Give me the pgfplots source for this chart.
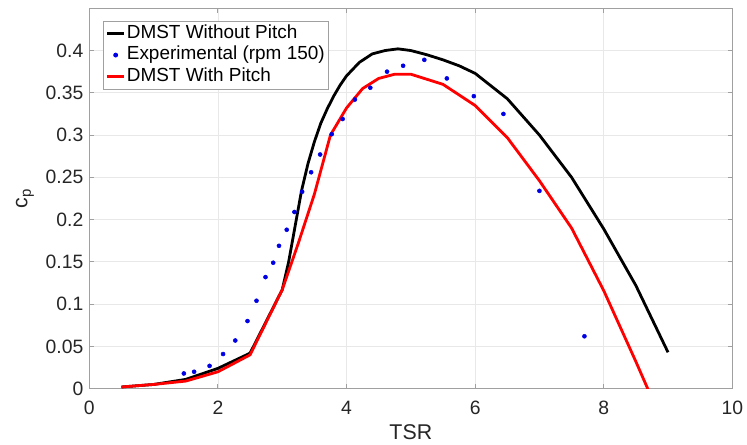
\documentclass[border=0pt]{standalone}
\usepackage{pgfplots}
\pgfplotsset{compat=1.18}
\usepackage{fontspec}
\setmainfont{Liberation Sans}
\usetikzlibrary{calc}

% Short legend samples for lines and for dots
\pgfplotsset{
  lineleg/.style={legend image code/.code={\draw[##1] (0pt,0pt) -- (12.75pt,0pt);}},
  dotleg/.style={legend image code/.code={\draw[mark repeat=2, mark phase=2, ##1] plot coordinates {(0pt,0pt) (6.4pt,0pt) (12.75pt,0pt)};}},
}

% Power coefficient vs. tip speed ratio
\pgfplotstableread{
tsr cp
0.5 0.002
1.0 0.005
1.5 0.011
2.0 0.024
2.5 0.042
3.0 0.117
3.1 0.150
3.2 0.192
3.3 0.234
3.4 0.266
3.5 0.292
3.6 0.314
3.7 0.331
3.8 0.346
3.9 0.359
4.0 0.370
4.2 0.386
4.4 0.396
4.6 0.400
4.8 0.402
5.0 0.400
5.25 0.395
5.5 0.389
5.75 0.382
6.0 0.373
6.5 0.343
7.0 0.300
7.5 0.250
8.0 0.189
8.5 0.122
9.0 0.043
}\nopitch

\pgfplotstableread{
tsr cp
0.5 0.002
1.0 0.005
1.5 0.009
2.0 0.020
2.5 0.040
3.0 0.117
3.25 0.172
3.5 0.230
3.75 0.300
4.0 0.332
4.25 0.355
4.5 0.367
4.75 0.372
5.0 0.372
5.5 0.360
6.0 0.335
6.5 0.297
7.0 0.246
7.5 0.190
8.0 0.116
8.5 0.032
9.0 -0.055
}\withpitch

\pgfplotstableread{
tsr cp
1.47 0.018
1.63 0.020
1.87 0.027
2.08 0.041
2.27 0.057
2.46 0.080
2.60 0.104
2.74 0.132
2.86 0.149
2.95 0.169
3.07 0.188
3.19 0.209
3.31 0.233
3.45 0.256
3.59 0.277
3.77 0.301
3.94 0.319
4.13 0.342
4.37 0.356
4.63 0.375
4.88 0.382
5.21 0.389
5.56 0.367
5.98 0.346
6.44 0.325
7.00 0.234
7.70 0.062
}\experiment

\definecolor{axgray}{RGB}{160,160,160}
\definecolor{txt}{RGB}{38,38,38}

\begin{document}
\begin{tikzpicture}
\begin{axis}[
  scale only axis,
  width=482.25pt, height=285.3pt,
  xmin=0, xmax=10, ymin=0, ymax=0.45,
  xtick={0,2,4,6,8,10},
  xticklabels={0,2,4,6,8,10},
  ytick={0,0.05,0.1,0.15,0.2,0.25,0.3,0.35,0.4},
  yticklabels={0,0.05,0.1,0.15,0.2,0.25,0.3,0.35,0.4},
  /pgf/number format/assume math mode=true,
  grid=major,
  major grid style={gray!18, line width=0.6pt},
  axis line style={axgray, line width=0.7pt},
  tick style={axgray, line width=0.7pt},
  tick align=inside,
  major tick length=3.5pt,
  tick label style={font=\fontsize{14.5}{16}\selectfont, text=txt},
  xticklabel style={yshift=-6pt},
  yticklabel style={xshift=-1pt},
  xlabel={TSR},
  ylabel={c\textsubscript{p}},
  label style={font=\fontsize{16}{19}\selectfont, text=txt},
  xlabel style={at={(axis description cs:0.5,-0.115)}, anchor=center},
  ylabel style={at={(axis description cs:-0.1,0.5)}, anchor=center},
  legend style={
    at={(rel axis cs:0.0208,0.9674)}, anchor=north west,
    draw=axgray, line width=0.6pt, fill=white,
    font=\fontsize{14.2}{16.9}\selectfont, text=black,
    inner xsep=2pt, inner ysep=1.5pt,
    nodes={inner sep=1pt, text height=10.5pt, text depth=3.5pt},
  },
  legend cell align=left,
]
\addplot[black, line width=2.1pt, lineleg]
  table[x=tsr, y=cp] {\nopitch};
\addlegendentry{DMST Without Pitch}

\addplot[only marks, mark=*, mark size=1.5pt, color=blue!90!black,
  mark options={draw=none, fill=blue!90!black}, dotleg]
  table[x=tsr, y=cp] {\experiment};
\addlegendentry{Experimental (rpm 150)}

\addplot[red, line width=2.1pt, lineleg]
  table[x=tsr, y=cp] {\withpitch};
\addlegendentry{DMST With Pitch}
\end{axis}
\pgfresetboundingbox
\path[use as bounding box] ($(current axis.south west)+(-66.975pt,-42.2pt)$) rectangle ($(current axis.north east)+(11pt,6.2pt)$);
\end{tikzpicture}
\end{document}
